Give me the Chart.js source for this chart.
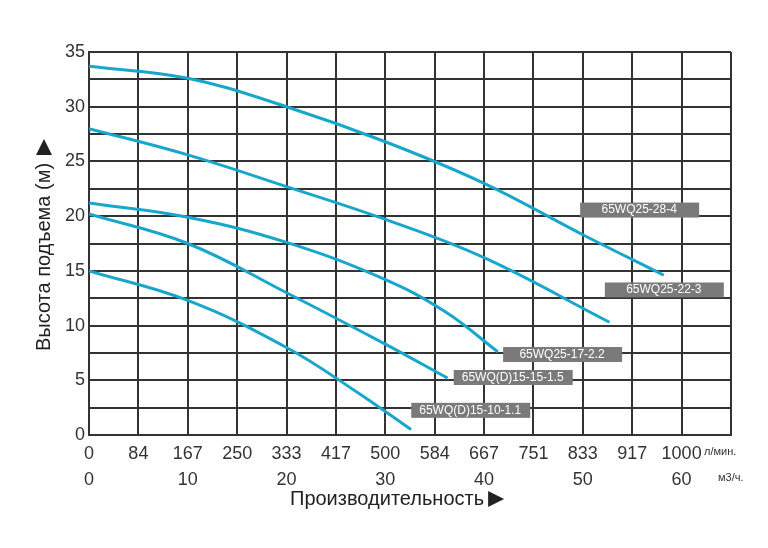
<!DOCTYPE html><html><head><meta charset="utf-8">
<script src="https://cdn.jsdelivr.net/npm/chart.js@4"></script>
<style>html,body{margin:0;padding:0;background:#fff}#c{display:block}</style></head><body>
<div style="width:768px;height:548px"><canvas id="c"></canvas></div>
<script>
const flowM3 = [0,5,10,15,20,25,30,35,40,45,50,55,60,65];
const flowLmin = ['0','84','167','250','333','417','500','584','667','751','833','917','1000',''];
const yTicks = [0,5,10,15,20,25,30,35];
const c1 = [[0,33.7],[10,32.6],[20,30],[30,26.8],[40,23],[50,18.3],[58.2,14.6]];
const c2 = [[0,28],[10,25.6],[20,22.7],[30,19.7],[40,16.2],[52.7,10.3]];
const c3 = [[0,21.2],[10,19.9],[20,17.6],[30,14.2],[36,11.3],[41.4,7.6]];
const c4 = [[0,20.2],[10,17.5],[20,13],[30,8.3],[36.3,5.2]];
const c5 = [[0,15],[10,12.3],[20,8],[27,4],[32.6,0.5]];
const names = ['65WQ25-28-4','65WQ25-22-3','65WQ25-17-2.2','65WQ(D)15-15-1.5','65WQ(D)15-10-1.1'];
const labelPos = [[55.7,20.6],[58.2,13.3],[47.9,7.4],[42.9,5.3],[38.6,2.3]];
const curves=[c1,c2,c3,c4,c5];
const extra={id:'extra',afterDatasetsDraw(ch){
 const g=ch.ctx,x=ch.scales.x,y=ch.scales.y;
 g.save();
 names.forEach((n,i)=>{const px=x.getPixelForValue(labelPos[i][0]),py=y.getPixelForValue(labelPos[i][1]);
  g.fillStyle='#7a7a7a';g.fillRect(px-59,py-7,119,15);
  g.fillStyle='#fff';g.font='12px "Liberation Sans",Arial';g.textAlign='center';g.textBaseline='middle';g.fillText(n,px,py+0.5);});
 g.fillStyle='#333';g.font='11px "Liberation Sans",Arial';g.textAlign='left';g.textBaseline='middle';
 g.fillText('л/мин.',704,452);g.fillText('м3/ч.',718,478);
 g.font='20px "Liberation Sans",Arial';g.textAlign='left';g.fillStyle='#222';
 const t1='Производительность';g.fillText(t1,290,499);
 const ax=290+g.measureText(t1).width+4;
 g.beginPath();g.moveTo(ax,491);g.lineTo(ax,507);g.lineTo(ax+16,499);g.fill();
 g.translate(44,245);g.rotate(-Math.PI/2);g.textAlign='center';
 const t2='Высота подъема (м)';g.fillText(t2,-12,0);
 const ay=-12+g.measureText(t2).width/2+8;
 g.beginPath();g.moveTo(ay,-8);g.lineTo(ay,8);g.lineTo(ay+16,0);g.fill();
 g.restore();}};
new Chart(document.getElementById('c'),{type:'scatter',
 data:{datasets:curves.map((d,i)=>({label:names[i],data:d.map(p=>({x:p[0],y:p[1]})),showLine:true,tension:0.4,borderColor:'#19a6cc',borderWidth:3,pointRadius:0,fill:false}))},
 options:{responsive:true,maintainAspectRatio:false,animation:false,
  layout:{padding:{top:52,right:37,left:0,bottom:0}},
  plugins:{legend:{display:false},tooltip:{enabled:false}},
  scales:{
   x:{type:'linear',min:0,max:65,afterBuildTicks(s){s.ticks=flowM3.map(v=>({value:v}));},
    afterFit(s){s.height=113;},
    grid:{color:'#333',lineWidth:2,drawTicks:false},border:{color:'#333',width:2},
    ticks:{autoSkip:false,maxRotation:0,padding:6,color:'#333',font:{size:18,family:'"Liberation Sans",Arial',lineHeight:1.45},
     callback(v,i){const m=flowM3[i];return [flowLmin[i], m%10===0&&m<=60?String(m):''];}}},
   y:{min:0,max:35,afterBuildTicks(s){const t=[];for(let v=0;v<=35;v+=2.5)t.push({value:v});s.ticks=t;},
    afterFit(s){s.width=89;},
    grid:{color:'#333',lineWidth:2,drawTicks:false},border:{color:'#333',width:2},
    ticks:{padding:4,color:'#333',font:{size:18,family:'"Liberation Sans",Arial'},
     callback(v){return yTicks.includes(v)?String(v):'';}}}}},
 plugins:[extra]});
</script></body></html>
